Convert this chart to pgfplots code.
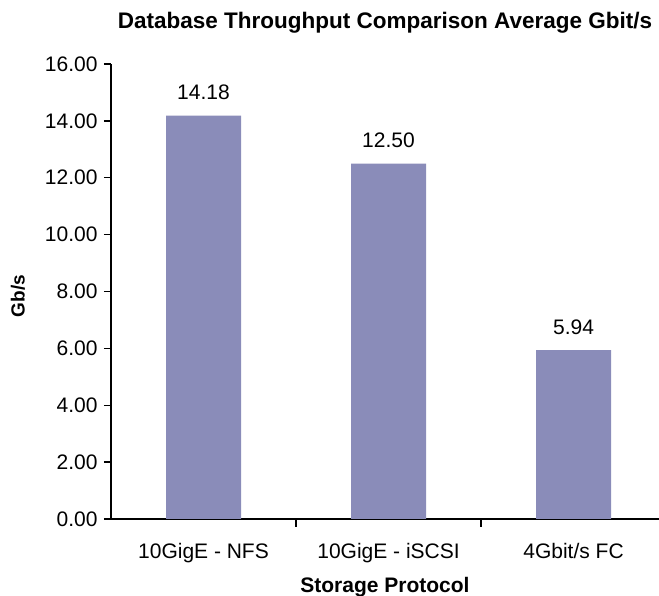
\documentclass[border=0pt]{standalone}
\usepackage{fontspec}
\setmainfont{Liberation Sans}
\usepackage{pgfplots}
\pgfplotsset{compat=1.18}
\definecolor{barfill}{RGB}{138,140,185}

\begin{document}
\begin{tikzpicture}[x=1pt,y=1pt]
\useasboundingbox (0,0) rectangle (659,596);
\begin{axis}[
    at={(111pt,77pt)}, anchor=south west,
    scale only axis, width=548pt, height=455pt,
    xmin=-0.5, xmax=2.462, ymin=0, ymax=16,
    axis x line*=bottom, axis y line*=left,
    axis line style={line width=1.5pt, black},
    ybar, bar width=75pt,
    xtick={0,1,2},
    xticklabels={10GigE - NFS, 10GigE - iSCSI, 4Gbit/s FC},
    major x tick style={draw=none},
    minor xtick={0.5,1.5},
    ytick={0,2,...,16},
    tick align=outside,
    major tick length=7pt, minor tick length=8pt,
    tick style={black, line width=1.3pt},
    /pgf/number format/assume math mode=true,
    yticklabel style={xshift=-3pt, /pgf/number format/.cd, fixed, fixed zerofill, precision=2},
    ticklabel style={font=\fontsize{21}{23}\selectfont},
    xticklabel style={yshift=-14pt},
    title={Database Throughput Comparison Average Gbit/s},
    title style={font=\fontsize{22.5}{25}\selectfont\bfseries, at={(axis description cs:0.5,1)}, anchor=center, yshift=35pt},
    xlabel={Storage Protocol},
    xlabel style={font=\fontsize{21}{23}\selectfont\bfseries, at={(axis description cs:0.5,0)}, anchor=center, yshift=-68pt},
    ylabel={Gb/s},
    ylabel style={font=\fontsize{19}{21}\selectfont\bfseries, at={(axis description cs:-0.17,0.49)}, anchor=center, rotate=0},
    nodes near coords,
    nodes near coords style={font=\fontsize{21}{23}\selectfont, anchor=center, yshift=23pt, /pgf/number format/.cd, fixed, fixed zerofill, precision=2, assume math mode=true},
]
\addplot[fill=barfill, draw=none] coordinates {(0,14.18) (1,12.50) (2,5.94)};
\end{axis}
\end{tikzpicture}
\end{document}
